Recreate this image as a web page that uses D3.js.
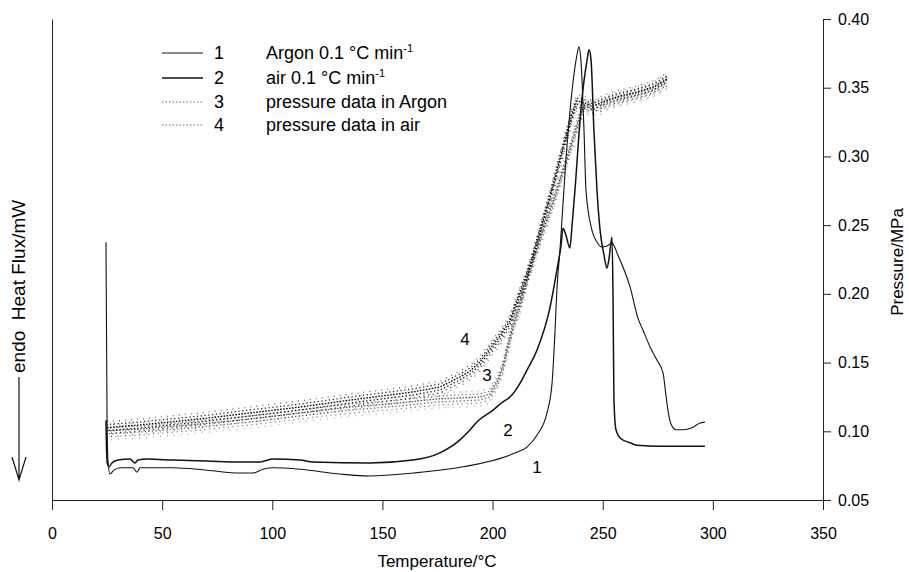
<!DOCTYPE html>
<html>
<head>
<meta charset="utf-8">
<script src="https://cdn.jsdelivr.net/npm/d3@7"></script>
<style>
  body { margin: 0; background: #fff; }
  svg { display: block; font-family: "Liberation Sans", Arial, sans-serif; }
</style>
</head>
<body>
<script>
const W = 909, H = 572;

// DSC curve 1: Argon 0.1 °C/min (temperature °C, heat flux arbitrary mW)
const argonT  = [24.5, 25.0, 25.4, 26.3, 28.1, 30.9, 36.8, 38.6, 40.0, 44.5, 54.9, 70.4, 85.3, 91.2, 95.8, 100.3,
                 112.6, 130.7, 144.4, 163.9, 186.6, 209.3, 215.6, 220.2, 224.7, 227.0, 228.3, 229.2, 230.6, 233.3,
                 236.1, 238.3, 239.2, 240.1, 241.5, 242.4, 245.1, 247.4, 249.7, 251.9, 254.2, 256.9, 260.1, 262.4,
                 266.0, 268.3, 271.5, 274.6, 277.4, 278.7, 279.6, 281.0, 283.3, 286.4, 290.5, 294.2, 296.4];
const argonHF = [5.36, 1.66, 0.83, 0.54, 0.62, 0.67, 0.67, 0.58, 0.67, 0.67, 0.67, 0.62, 0.56, 0.56, 0.64, 0.67,
                 0.64, 0.54, 0.50, 0.56, 0.69, 0.96, 1.10, 1.35, 1.81, 2.43, 3.47, 4.37, 5.20, 7.07,
                 8.52, 9.25, 9.42, 9.15, 7.69, 6.44, 5.61, 5.36, 5.26, 5.28, 5.34, 5.09, 4.74, 4.43,
                 3.78, 3.53, 3.18, 2.91, 2.64, 2.18, 1.87, 1.58, 1.46, 1.46, 1.50, 1.60, 1.62];

// DSC curve 2: air 0.1 °C/min
const airT  = [24.5, 25.0, 25.9, 27.2, 30.0, 35.4, 37.7, 39.0, 43.1, 54.9, 70.4, 85.3, 94.4, 100.3, 112.6, 118.5,
               144.4, 163.9, 176.1, 185.2, 189.8, 192.9, 200.2, 204.7, 207.9, 212.5, 215.6, 220.2, 226.1, 229.2,
               231.1, 232.0, 233.3, 235.1, 236.1, 237.4, 240.1, 242.9, 243.8, 244.7, 246.0, 247.4, 248.8, 250.6,
               251.9, 252.9, 254.2, 254.7, 255.1, 256.0, 257.9, 262.4, 265.6, 276.0, 296.4];
const airHF = [1.66, 0.79, 0.69, 0.77, 0.83, 0.85, 0.77, 0.83, 0.85, 0.83, 0.81, 0.79, 0.79, 0.85, 0.83, 0.79,
               0.77, 0.83, 0.98, 1.25, 1.46, 1.62, 1.87, 2.04, 2.14, 2.43, 2.70, 3.12, 4.01, 4.78,
               5.30, 5.65, 5.51, 5.24, 5.72, 6.44, 8.11, 9.15, 9.36, 9.15, 7.69, 6.44, 5.61, 5.09,
               4.82, 5.03, 5.47, 4.16, 2.08, 1.46, 1.29, 1.19, 1.14, 1.12, 1.12];

// pressure data (MPa)
const pArgonT = [25.0, 40.0, 67.2, 89.9, 112.6, 135.3, 158.0, 174.8, 185.2, 194.3, 198.8, 202.0, 204.7, 206.6,
                 209.3, 212.5, 217.0, 221.5, 228.3, 235.1, 238.8, 241.0, 244.2, 248.8, 253.3, 257.9, 265.6, 272.8, 279.2];
const pArgon  = [0.0995, 0.1009, 0.1046, 0.1082, 0.1126, 0.1169, 0.1199, 0.1228, 0.1235, 0.1242, 0.1264, 0.1351,
                 0.1461, 0.1592, 0.1759, 0.1919, 0.2174, 0.2392, 0.2705, 0.3047, 0.3243, 0.3338, 0.3374, 0.3367,
                 0.3403, 0.3425, 0.3454, 0.3491, 0.3549];
const pAirT = [25.0, 40.0, 67.2, 89.9, 112.6, 135.3, 163.9, 176.1, 185.2, 189.8, 194.3, 198.8, 203.4, 207.9,
               211.5, 215.2, 217.9, 221.5, 226.1, 232.0, 236.1, 238.3, 242.0, 245.6, 248.8, 253.3, 257.9, 265.6,
               272.8, 279.2];
const pAir  = [0.1020, 0.1039, 0.1082, 0.1126, 0.1169, 0.1220, 0.1279, 0.1315, 0.1388, 0.1431, 0.1497, 0.1592,
               0.1686, 0.1795, 0.1955, 0.2116, 0.2246, 0.2450, 0.2705, 0.3061, 0.3302, 0.3396, 0.3382, 0.3353,
               0.3382, 0.3411, 0.3433, 0.3462, 0.3498, 0.3556];

const tempTicks = [0, 50, 100, 150, 200, 250, 300, 350];
const pressTicks = [0.05, 0.10, 0.15, 0.20, 0.25, 0.30, 0.35, 0.40];
const legendNums = ["1", "2", "3", "4"];
const legendText = ["Argon 0.1 °C min", "air 0.1 °C min", "pressure data in Argon", "pressure data in air"];
// curve number labels: [text, temperature, pressure-axis height]
const curveLabels = [["4", 187.5, 0.1628], ["3", 197.5, 0.1366], ["2", 207.0, 0.0966], ["1", 220.2, 0.0697]];

const zip = (a, b) => a.map((v, i) => [v, b[i]]);

const svg = d3.select("body").append("svg").attr("width", W).attr("height", H);

const x = d3.scaleLinear().domain([0, 350]).range([52, 823]);
const yP = d3.scaleLinear().domain([0.05, 0.40]).range([500, 19]);
const yH = d3.scaleLinear().domain([0, 10]).range([500, 19]);

// axes
svg.append("g")
    .attr("transform", "translate(0,500)")
    .call(d3.axisBottom(x).tickValues(tempTicks).tickSize(10).tickSizeOuter(0).tickPadding(18))
    .attr("font-family", null).attr("font-size", 16)
    .call(g => g.selectAll("line,path").attr("stroke", "#222"));

svg.append("g")
    .attr("transform", "translate(823,0)")
    .call(d3.axisRight(yP).tickValues(pressTicks).tickFormat(d3.format(".2f")).tickSize(8).tickSizeOuter(0).tickPadding(7))
    .attr("font-family", null).attr("font-size", 16)
    .call(g => g.selectAll("line,path").attr("stroke", "#222"));

svg.append("g")
    .attr("transform", "translate(52,0)")
    .call(d3.axisLeft(yH).tickValues([]).tickSizeOuter(0))
    .call(g => g.select("path").attr("stroke", "#222"));

// axis titles
svg.append("text")
    .attr("x", 437).attr("y", 567)
    .attr("text-anchor", "middle").attr("font-size", 17)
    .text("Temperature/°C");

svg.append("text")
    .attr("transform", "translate(903,262) rotate(-90)")
    .attr("text-anchor", "middle").attr("font-size", 17)
    .text("Pressure/MPa");

svg.append("text")
    .attr("transform", "translate(25,373) rotate(-90)")
    .attr("font-size", 19)
    .attr("xml:space", "preserve")
    .text("endo  Heat Flux/mW");

// endo arrow
svg.append("path")
    .attr("d", "M19,377 V480 M12,457 L19,480 L26,457")
    .attr("fill", "none").attr("stroke", "#111").attr("stroke-width", 1.2);

// pressure data: dotted, speckled strokes
const pLine = d3.line().x(d => x(d[0])).y(d => yP(d[1]));
const speckle = [
    { dy: -7, dash: "1 5", off: 0, op: 0.6 },
    { dy: -4, dash: "1.3 2.5", off: 1, op: 0.85 },
    { dy: -1, dash: "1.6 1.4", off: 0, op: 1 },
    { dy: 2, dash: "1.4 2.2", off: 2, op: 0.9 },
    { dy: 5, dash: "1.2 3.5", off: 1, op: 0.75 },
    { dy: 8, dash: "1 6", off: 3, op: 0.5 }
];
[[pArgonT, pArgon, "#333", 0.8], [pAirT, pAir, "#000", 1]].forEach(([t, p, c, k]) => {
    const data = zip(t, p);
    speckle.forEach(s => {
        svg.append("path")
            .datum(data)
            .attr("d", pLine)
            .attr("transform", `translate(0,${s.dy})`)
            .attr("fill", "none")
            .attr("stroke", c)
            .attr("stroke-width", 1.3)
            .attr("stroke-dasharray", s.dash)
            .attr("stroke-dashoffset", s.off)
            .attr("opacity", s.op * k);
    });
});

// DSC curves
const hLine = d3.line().x(d => x(d[0])).y(d => yH(d[1])).curve(d3.curveMonotoneX);
svg.append("path").datum(zip(argonT, argonHF)).attr("d", hLine)
    .attr("fill", "none").attr("stroke", "#111").attr("stroke-width", 1.1);
svg.append("path").datum(zip(airT, airHF)).attr("d", hLine)
    .attr("fill", "none").attr("stroke", "#111").attr("stroke-width", 1.5);

// curve labels
svg.selectAll(".clabel")
    .data(curveLabels)
    .enter()
    .append("text")
    .attr("x", d => x(d[1])).attr("y", d => yP(d[2]))
    .attr("text-anchor", "middle").attr("font-size", 17)
    .text(d => d[0]);

// legend
const legend = svg.append("g").attr("font-size", 18);
const rowY = [53, 78, 102, 125];
legendNums.forEach((n, i) => {
    const y = rowY[i];
    legend.append("line")
        .attr("x1", 162).attr("x2", 203).attr("y1", y).attr("y2", y)
        .attr("stroke", i < 2 ? "#111" : "#666")
        .attr("stroke-width", i === 0 ? 1.1 : i === 1 ? 1.6 : 1)
        .attr("stroke-dasharray", i < 2 ? null : "1.5 2");
    legend.append("text").attr("x", 214).attr("y", y + 6).text(n);
    const t = legend.append("text").attr("x", 266).attr("y", y + 6).text(legendText[i]);
    if (i < 2) {
        t.append("tspan").attr("dy", -7).attr("font-size", 11).text("-1");
    }
});
</script>
</body>
</html>
